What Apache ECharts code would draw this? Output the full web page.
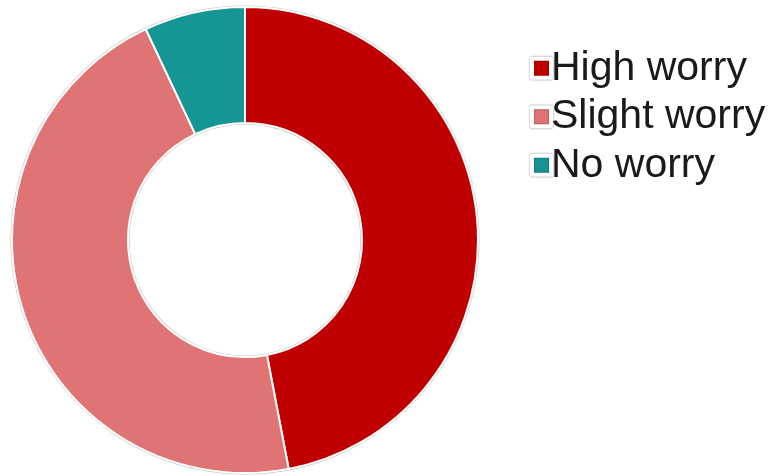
<!DOCTYPE html>
<html>
<head>
<meta charset="utf-8">
<script src="https://cdn.jsdelivr.net/npm/echarts@6/dist/echarts.min.js"></script>
<style>
  html, body { margin: 0; padding: 0; background: #fff; }
  #chart { width: 777px; height: 476px; }
</style>
</head>
<body>
<div id="chart"></div>
<script>
// Share of respondents by level of worry
const categories = ['High worry', 'Slight worry', 'No worry'];
const values = [47, 46, 7];
const colors = ['#C00000', '#E07373', '#169595'];

const chart = echarts.init(document.getElementById('chart'), null, { renderer: 'canvas' });

const sliceData = categories.map((name, i) => ({
  name: name,
  value: values[i],
  itemStyle: { color: colors[i] }
}));

chart.setOption({
  backgroundColor: '#ffffff',
  animation: false,
  legend: {
    data: categories,
    orient: 'vertical',
    left: 525,
    top: 39,
    itemGap: 0,
    itemWidth: 19,
    itemHeight: 19,
    icon: 'rect',
    itemStyle: {
      borderColor: '#ffffff',
      borderWidth: 4,
      shadowColor: 'rgba(0,0,0,0.5)',
      shadowBlur: 2
    },
    textStyle: {
      fontFamily: 'Liberation Sans, Arial, sans-serif',
      fontSize: 41,
      lineHeight: 48.5,
      color: '#1a1a1a',
      padding: [0, 0, 0, -5]
    }
  },
  series: [
    {
      // thin grey rim around the ring
      type: 'pie',
      silent: true,
      center: [245, 240],
      radius: [115.5, 234.5],
      startAngle: 90,
      label: { show: false },
      labelLine: { show: false },
      data: [{ name: 'rim', value: 1, itemStyle: { color: '#c4c4c4' } }],
      z: 1
    },
    {
      type: 'pie',
      center: [245, 240],
      radius: [117, 233],
      startAngle: 90,
      clockwise: true,
      label: { show: false },
      labelLine: { show: false },
      itemStyle: { borderColor: '#ffffff', borderWidth: 2 },
      data: sliceData,
      z: 2
    }
  ]
});
</script>
</body>
</html>
